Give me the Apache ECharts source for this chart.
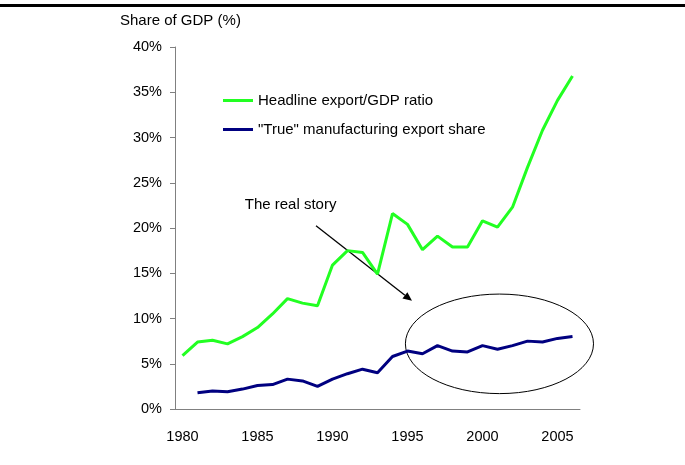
<!DOCTYPE html>
<html>
<head>
<meta charset="utf-8">
<script src="https://cdn.jsdelivr.net/npm/echarts@6/dist/echarts.min.js"></script>
<style>html,body{margin:0;padding:0;background:#fff}#c{width:685px;height:465px}</style>
</head>
<body>
<div id="c"></div>
<script>
const years = ['1980','1981','1982','1983','1984','1985','1986','1987','1988','1989','1990','1991','1992','1993','1994','1995','1996','1997','1998','1999','2000','2001','2002','2003','2004','2005','2006'];
const headline = [5.9,7.4,7.6,7.2,8.0,9.0,10.5,12.2,11.7,11.4,15.9,17.5,17.3,14.9,21.6,20.4,17.6,19.1,17.9,17.9,20.8,20.1,22.3,26.7,30.8,34.1,36.8];
const trueShare = [null,1.8,2.0,1.9,2.2,2.6,2.7,3.3,3.1,2.5,3.3,3.9,4.4,4.0,5.8,6.4,6.1,7.0,6.4,6.3,7.0,6.6,7.0,7.5,7.4,7.8,8.0];
const yTicks = [0,5,10,15,20,25,30,35,40];
const seriesNames = ['Headline export/GDP ratio','"True" manufacturing export share'];
const annotation = 'The real story';

const FONT = 'Liberation Sans, Arial, sans-serif';
const chart = echarts.init(document.getElementById('c'));
chart.setOption({
  animation: false,
  backgroundColor: '#fff',
  textStyle: {fontFamily: FONT},
  title: {text: 'Share of GDP (%)', left: 115, top: 8,
    textStyle: {fontFamily: FONT, fontSize: 15, fontWeight: 'normal', color: '#000'}},
  legend: {
    orient: 'vertical', left: 218, top: 88, itemWidth: 30, itemHeight: 3, itemGap: 14,
    icon: 'rect',
    textStyle: {fontFamily: FONT, fontSize: 15, color: '#000'},
    data: seriesNames
  },
  grid: {left: 175, right: 105, top: 47, bottom: 56, containLabel: false},
  xAxis: {
    type: 'category', data: years, boundaryGap: true,
    axisLine: {lineStyle: {color: '#808080', width: 1}},
    axisTick: {show: false},
    axisLabel: {interval: 4, margin: 20, fontSize: 14.5, color: '#000', fontFamily: FONT}
  },
  yAxis: {
    type: 'value', min: yTicks[0], max: yTicks[yTicks.length-1], interval: 5,
    axisLine: {show: true, lineStyle: {color: '#808080', width: 1}},
    axisTick: {show: true, length: 5, lineStyle: {color: '#808080'}},
    splitLine: {show: false},
    axisLabel: {formatter: '{value}%', margin: 13, fontSize: 14.5, color: '#000', fontFamily: FONT}
  },
  series: [
    {name: seriesNames[0], type: 'line', data: headline, symbol: 'none',
     lineStyle: {color: '#22ff22', width: 3}, itemStyle: {color: '#22ff22'}},
    {name: seriesNames[1], type: 'line', data: trueShare, symbol: 'none',
     lineStyle: {color: '#000080', width: 3}, itemStyle: {color: '#000080'}}
  ]
});

// annotation helpers: map fractional category index + value to pixels via the chart's own axes
const p0 = chart.convertToPixel({gridIndex: 0}, [0, 0]);
const p1 = chart.convertToPixel({gridIndex: 0}, [1, 10]);
function px(i, v) { return [p0[0] + i * (p1[0] - p0[0]), p0[1] + v * (p1[1] - p0[1]) / 10]; }

const a0 = px(8.9, 20.25), a1 = px(15.3, 11.95);
const ang = Math.atan2(a1[1] - a0[1], a1[0] - a0[0]);
const hl = 9, hw = 4;
const base = [a1[0] - hl * Math.cos(ang), a1[1] - hl * Math.sin(ang)];
const head = [a1,
  [base[0] + hw * Math.sin(ang), base[1] - hw * Math.cos(ang)],
  [base[0] - hw * Math.sin(ang), base[1] + hw * Math.cos(ang)]];
const ec = px(21.13, 7.2);
const erx = px(6.27, 0)[0] - p0[0];
const ery = p0[1] - px(0, 5.5)[1];
const tp = px(4.15, 22.55);

chart.setOption({
  graphic: [
    {type: 'rect', left: 0, top: 4, shape: {width: 685, height: 3}, style: {fill: '#000'}, silent: true},
    {type: 'line', shape: {x1: a0[0], y1: a0[1], x2: base[0], y2: base[1]}, style: {stroke: '#000', lineWidth: 1.3}},
    {type: 'polygon', shape: {points: head}, style: {fill: '#000'}},
    {type: 'ellipse', shape: {cx: ec[0], cy: ec[1], rx: erx, ry: ery}, style: {fill: 'none', stroke: '#000', lineWidth: 1}},
    {type: 'text', x: tp[0], y: tp[1], style: {text: annotation, fontFamily: FONT, fontSize: 15, fill: '#000', textVerticalAlign: 'middle'}}
  ]
});
</script>
</body>
</html>
